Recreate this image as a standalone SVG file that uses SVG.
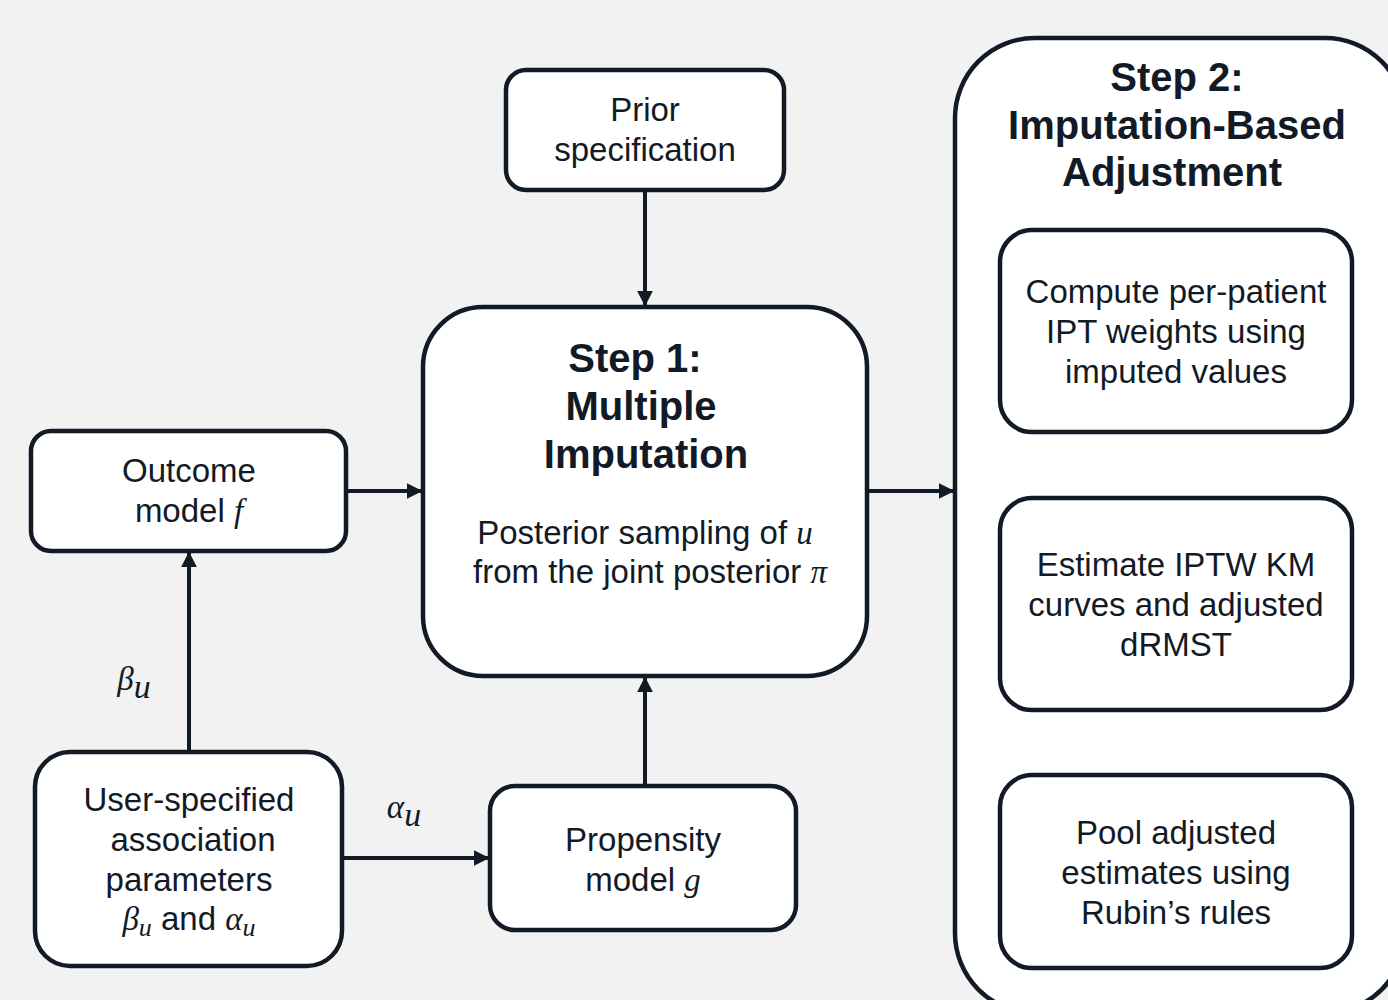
<svg xmlns="http://www.w3.org/2000/svg" width="1388" height="1000" viewBox="0 0 1388 1000">
<style>
.box{fill:#ffffff;stroke:#121a26;stroke-width:4.5}
.t{font-family:"Liberation Sans",Arial,sans-serif;font-size:33px;fill:#121a26;text-anchor:middle}
.b{font-family:"Liberation Sans",Arial,sans-serif;font-size:40px;font-weight:bold;fill:#121a26;text-anchor:middle}
.m{font-family:"Liberation Serif","Times New Roman",serif;font-style:italic}
.c{stroke:#121a26;stroke-width:4;fill:none;marker-end:url(#ah)}
</style>
<defs>
<marker id="ah" viewBox="0 0 10 10" refX="9" refY="5" markerWidth="4" markerHeight="4" orient="auto" markerUnits="strokeWidth">
<path d="M0,0 L10,5 L0,10 z" fill="#121a26"/>
</marker>
</defs>
<rect width="1388" height="1000" fill="#f2f2f2"/>
<g id="connectors">
<line class="c" x1="645" y1="190" x2="645" y2="305"/>
<line class="c" x1="346" y1="491" x2="421" y2="491"/>
<line class="c" x1="867" y1="491" x2="953" y2="491"/>
<line class="c" x1="189" y1="752" x2="189" y2="553"/>
<line class="c" x1="342" y1="858" x2="488" y2="858"/>
<line class="c" x1="645" y1="786" x2="645" y2="678"/>
<line class="c" x1="1176" y1="432" x2="1176" y2="496"/>
<line class="c" x1="1176" y1="710" x2="1176" y2="773"/>
<text class="t" x="134" y="690" font-size="44"><tspan class="m">β</tspan><tspan class="m" font-size="34" dy="8">u</tspan></text>
<text class="t" x="404" y="818" font-size="44"><tspan class="m">α</tspan><tspan class="m" font-size="34" dy="8">u</tspan></text>
</g>
<g id="prior">
<rect class="box" x="506" y="70" width="278" height="120" rx="20"/>
<text class="t" x="645" y="121">Prior</text>
<text class="t" x="645" y="161">specification</text>
</g>
<g id="step1">
<rect class="box" x="423" y="307" width="444" height="369" rx="60"/>
<text class="b" x="635" y="372">Step 1:</text>
<text class="b" x="641" y="420">Multiple</text>
<text class="b" x="646" y="468">Imputation</text>
<text class="t" x="645" y="544">Posterior sampling of <tspan class="m">u</tspan></text>
<text class="t" x="650" y="583">from the joint posterior <tspan class="m">π</tspan></text>
</g>
<g id="outcome">
<rect class="box" x="31" y="431" width="315" height="120" rx="20"/>
<text class="t" x="189" y="482">Outcome</text>
<text class="t" x="189" y="522">model <tspan class="m">f</tspan></text>
</g>
<g id="user">
<rect class="box" x="35" y="752" width="307" height="214" rx="35"/>
<text class="t" x="189" y="811">User-specified</text>
<text class="t" x="193" y="851">association</text>
<text class="t" x="189" y="891">parameters</text>
<text class="t" x="189" y="930"><tspan class="m">β</tspan><tspan class="m" font-size="26" dy="6">u</tspan><tspan dy="-6"> and </tspan><tspan class="m">α</tspan><tspan class="m" font-size="26" dy="6">u</tspan></text>
</g>
<g id="propensity">
<rect class="box" x="490" y="786" width="306" height="144" rx="25"/>
<text class="t" x="643" y="851">Propensity</text>
<text class="t" x="643" y="891">model <tspan class="m">g</tspan></text>
</g>
<g id="step2">
<rect class="box" x="955" y="38" width="450" height="975" rx="80"/>
<text class="b" x="1177" y="91">Step 2:</text>
<text class="b" x="1177" y="139">Imputation-Based</text>
<text class="b" x="1172" y="186">Adjustment</text>
</g>
<g id="ipt">
<rect class="box" x="1000" y="230" width="352" height="202" rx="32"/>
<text class="t" x="1176" y="303">Compute per-patient</text>
<text class="t" x="1176" y="343">IPT weights using</text>
<text class="t" x="1176" y="383">imputed values</text>
</g>
<g id="km">
<rect class="box" x="1000" y="498" width="352" height="212" rx="32"/>
<text class="t" x="1176" y="576">Estimate IPTW KM</text>
<text class="t" x="1176" y="616">curves and adjusted</text>
<text class="t" x="1176" y="656">dRMST</text>
</g>
<g id="pool">
<rect class="box" x="1000" y="775" width="352" height="193" rx="32"/>
<text class="t" x="1176" y="844">Pool adjusted</text>
<text class="t" x="1176" y="884">estimates using</text>
<text class="t" x="1176" y="924">Rubin’s rules</text>
</g>
</svg>
